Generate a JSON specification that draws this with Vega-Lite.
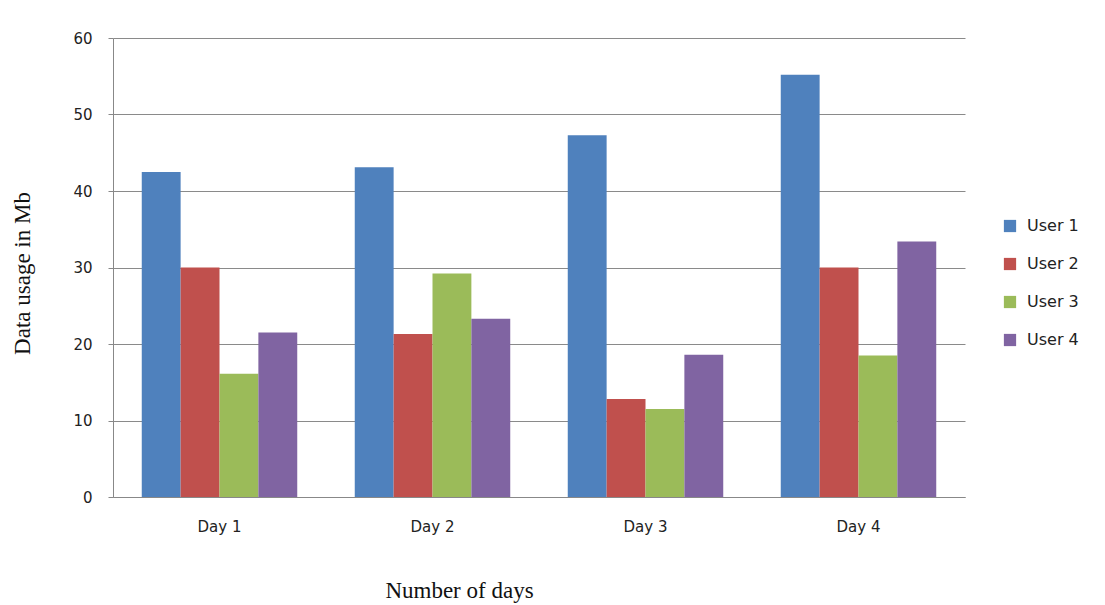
{
  "$schema": "https://vega.github.io/schema/vega-lite/v6.json",
  "width": 852,
  "height": 459,
  "autosize": "none",
  "padding": {"left": 113, "top": 38, "right": 140, "bottom": 108},
  "background": "white",
  "data": {
    "values": [
      {"day": "Day 1", "user": "User 1", "mb": 42.5},
      {"day": "Day 1", "user": "User 2", "mb": 30.0},
      {"day": "Day 1", "user": "User 3", "mb": 16.1},
      {"day": "Day 1", "user": "User 4", "mb": 21.5},
      {"day": "Day 2", "user": "User 1", "mb": 43.1},
      {"day": "Day 2", "user": "User 2", "mb": 21.3},
      {"day": "Day 2", "user": "User 3", "mb": 29.2},
      {"day": "Day 2", "user": "User 4", "mb": 23.3},
      {"day": "Day 3", "user": "User 1", "mb": 47.3},
      {"day": "Day 3", "user": "User 2", "mb": 12.8},
      {"day": "Day 3", "user": "User 3", "mb": 11.5},
      {"day": "Day 3", "user": "User 4", "mb": 18.6},
      {"day": "Day 4", "user": "User 1", "mb": 55.2},
      {"day": "Day 4", "user": "User 2", "mb": 30.0},
      {"day": "Day 4", "user": "User 3", "mb": 18.5},
      {"day": "Day 4", "user": "User 4", "mb": 33.4}
    ]
  },
  "mark": {"type": "bar"},
  "encoding": {
    "x": {
      "field": "day",
      "type": "nominal",
      "scale": {"paddingInner": 0.27, "paddingOuter": 0.135},
      "axis": {
        "title": "Number of days",
        "titleFont": "Liberation Serif",
        "titleFontSize": 23,
        "titleFontWeight": "normal",
        "titleColor": "#111111",
        "titleX": 346,
        "titleY": 100,
        "titleAnchor": "middle",
        "titleBaseline": "alphabetic",
        "labelAngle": 0,
        "labelFont": "DejaVu Sans",
        "labelFontSize": 15,
        "labelColor": "#222222",
        "labelPadding": 22,
        "ticks": false,
        "domainColor": "#888888",
        "grid": false
      }
    },
    "xOffset": {"field": "user", "type": "nominal", "scale": {"paddingInner": 0, "paddingOuter": 0}},
    "y": {
      "field": "mb",
      "type": "quantitative",
      "scale": {"domain": [0, 60], "nice": false},
      "axis": {
        "values": [0, 10, 20, 30, 40, 50, 60],
        "title": "Data usage in Mb",
        "titleFont": "Liberation Serif",
        "titleFontSize": 23,
        "titleFontWeight": "normal",
        "titleColor": "#111111",
        "titleX": -91,
        "titleY": 235,
        "titleAngle": -90,
        "titleAnchor": "middle",
        "titleBaseline": "middle",
        "labelFont": "DejaVu Sans",
        "labelFontSize": 15,
        "labelColor": "#222222",
        "labelPadding": 16,
        "tickSize": 5,
        "tickColor": "#888888",
        "domainColor": "#888888",
        "grid": true,
        "gridColor": "#8a8a8a",
        "gridWidth": 1
      }
    },
    "color": {
      "field": "user",
      "type": "nominal",
      "scale": {
        "domain": ["User 1", "User 2", "User 3", "User 4"],
        "range": ["#4F81BD", "#C0504D", "#9BBB59", "#8064A2"]
      },
      "legend": {
        "title": null,
        "orient": "none",
        "legendX": 889,
        "legendY": 180,
        "symbolType": "square",
        "symbolSize": 150,
        "symbolStrokeWidth": 0,
        "labelFont": "DejaVu Sans",
        "labelFontSize": 16,
        "labelColor": "#222222",
        "labelOffset": 9,
        "rowPadding": 22
      }
    }
  },
  "config": {
    "view": {"stroke": null},
    "axis": {"labelFontWeight": "normal"}
  }
}
